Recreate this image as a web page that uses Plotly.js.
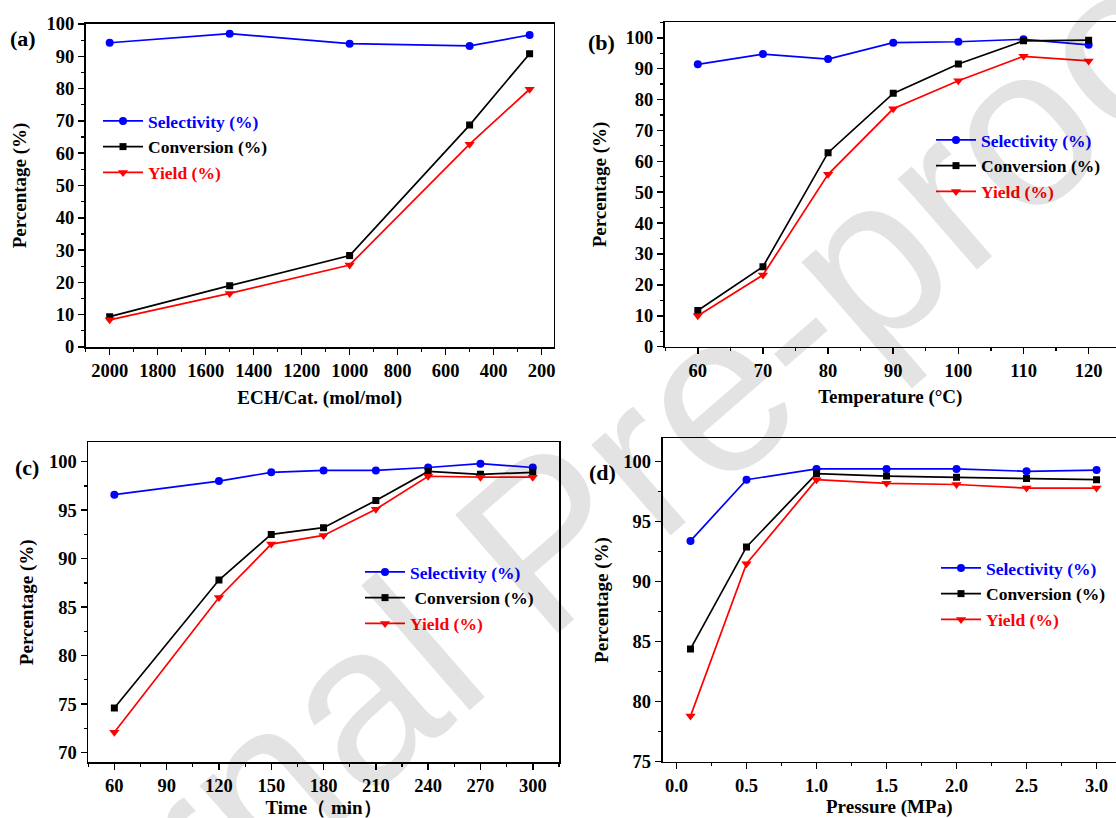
<!DOCTYPE html>
<html>
<head>
<meta charset="utf-8">
<script src="https://cdn.plot.ly/plotly-3.0.1.min.js"></script>
<style>
html,body{margin:0;padding:0;background:#fff;overflow:hidden;}
#chart{width:1116px;height:818px;}
</style>
</head>
<body>
<div id="chart"></div>
<script>
// ---- data ----
const seriesNames = ['Selectivity (%)', 'Conversion (%)', 'Yield (%)'];

// (a) ECH/Cat. ratio
const ratioX = [2000, 1500, 1000, 500, 250];
const ratioSel = [94.2, 97.0, 93.9, 93.2, 96.6];
const ratioConv = [9.4, 19.0, 28.3, 68.7, 90.8];
const ratioYield = [8.4, 16.6, 25.4, 62.8, 79.8];

// (b) Temperature
const tempX = [60, 70, 80, 90, 100, 110, 120];
const tempSel = [91.4, 94.7, 93.1, 98.4, 98.7, 99.5, 97.7];
const tempConv = [11.7, 25.9, 62.8, 82.0, 91.5, 99.0, 99.2];
const tempYield = [10.0, 23.2, 55.8, 77.0, 86.1, 94.0, 92.5];

// (c) Time
const timeX = [60, 120, 150, 180, 210, 240, 270, 300];
const timeSel = [96.6, 98.0, 98.9, 99.1, 99.1, 99.4, 99.8, 99.4];
const timeConv = [74.6, 87.8, 92.5, 93.2, 96.0, 99.0, 98.7, 98.9];
const timeYield = [72.1, 86.0, 91.5, 92.4, 95.1, 98.5, 98.4, 98.4];

// (d) Pressure
const presX = [0.1, 0.5, 1.0, 1.5, 2.0, 2.5, 3.0];
const presSel = [93.4, 98.5, 99.4, 99.4, 99.4, 99.2, 99.3];
const presConv = [84.4, 92.9, 99.0, 98.8, 98.7, 98.6, 98.5];
const presYield = [78.8, 91.5, 98.5, 98.2, 98.1, 97.8, 97.8];

// ---- styling ----
const FONT = 'Liberation Serif, Times New Roman, serif';
const BLUE = '#0000ff', BLACK = '#000000', RED = '#ff0000';
const W = 1116, H = 818;

function mk(x, y, color, symbol, size, name, ax, leg) {
  return {
    x: x, y: y, type: 'scatter', mode: 'lines+markers',
    line: {color: color, width: 1.7},
    marker: {color: color, symbol: symbol, size: size},
    name: '<span style="color:' + color + '">' + name + '</span>',
    xaxis: 'x' + ax, yaxis: 'y' + ax, legend: leg, showlegend: true
  };
}

const panels = [
  {ax: '', leg: 'legend', x: ratioX, s: ratioSel, c: ratioConv, yv: ratioYield, conv: seriesNames[1]},
  {ax: '2', leg: 'legend2', x: tempX, s: tempSel, c: tempConv, yv: tempYield, conv: seriesNames[1]},
  {ax: '3', leg: 'legend3', x: timeX, s: timeSel, c: timeConv, yv: timeYield, conv: ' ' + seriesNames[1]},
  {ax: '4', leg: 'legend4', x: presX, s: presSel, c: presConv, yv: presYield, conv: seriesNames[1]}
];

const traces = [];
panels.forEach(p => {
  traces.push(mk(p.x, p.s, BLUE, 'circle', 8, seriesNames[0], p.ax, p.leg));
  traces.push(mk(p.x, p.c, BLACK, 'square', 7, p.conv, p.ax, p.leg));
  traces.push(mk(p.x, p.yv, RED, 'triangle-down', 9, seriesNames[2], p.ax, p.leg));
});

function px2x(v) { return v / W; }
function px2y(v) { return 1 - v / H; }

function xax(domL, domR, range, dtick, minorDtick, title, anchor, standoff, fmt) {
  const a = {
    domain: [px2x(domL), domR >= W ? 1 : px2x(domR)], range: range, anchor: anchor,
    showgrid: false, zeroline: false, showline: true, linecolor: '#000', linewidth: 1.7,
    mirror: true, ticks: 'outside', ticklen: 6, tickwidth: 1.5, tickcolor: '#000',
    dtick: dtick, tick0: 0, automargin: false,
    minor: {ticks: 'outside', ticklen: 3, tickwidth: 1.2, tickcolor: '#000', dtick: minorDtick, showgrid: false},
    tickfont: {family: FONT, size: 18.5, color: '#000', weight: 'bold'},
    title: {text: title, font: {family: FONT, size: 19, color: '#000', weight: 'bold'}, standoff: standoff}
  };
  if (fmt) a.tickformat = fmt;
  return a;
}
function yax(domB, domT, range, dtick, minorDtick, anchor, mirror, standoff) {
  return {
    domain: [px2y(domB), px2y(domT)], range: range, anchor: anchor,
    showgrid: false, zeroline: false, showline: true, linecolor: '#000', linewidth: 1.7,
    mirror: mirror, ticks: 'outside', ticklen: 6, tickwidth: 1.5, tickcolor: '#000',
    dtick: dtick, tick0: 0, automargin: false,
    minor: {ticks: 'outside', ticklen: 3, tickwidth: 1.2, tickcolor: '#000', dtick: minorDtick, showgrid: false},
    tickfont: {family: FONT, size: 18.5, color: '#000', weight: 'bold'},
    title: {text: 'Percentage (%)', font: {family: FONT, size: 19, color: '#000', weight: 'bold'}, standoff: standoff}
  };
}
function leg(xpx, ypx) {
  return {
    x: px2x(xpx), y: px2y(ypx), xanchor: 'left', yanchor: 'top',
    bgcolor: 'rgba(0,0,0,0)', borderwidth: 0, itemwidth: 40, tracegroupgap: 0,
    font: {family: FONT, size: 17.5, color: '#000', weight: 'bold'}
  };
}
function lab(t, xpx, ypx) {
  return {text: t, x: px2x(xpx), y: px2y(ypx), xref: 'paper', yref: 'paper', showarrow: false,
    xanchor: 'center', yanchor: 'middle',
    font: {family: FONT, size: 22, color: '#000', weight: 'bold'}};
}

const layout = {
  width: W, height: H,
  margin: {l: 0, r: 0, t: 0, b: 0},
  paper_bgcolor: '#fff', plot_bgcolor: '#fff',
  showlegend: true,
  xaxis: xax(85.7, 553.6, [2100, 150], 200, 100, 'ECH/Cat. (mol/mol)', 'y', 11),
  yaxis: yax(347, 24, [0, 100], 10, 5, 'x', true, 15),
  xaxis2: xax(664.6, W, [54.9, 124.2], 10, 5, 'Temperature (°C)', 'y2', 10),
  yaxis2: yax(346.7, 22.3, [0, 105], 10, 5, 'x2', false, 14),
  xaxis3: xax(88.2, 558.9, [45, 315], 30, 15, 'Time（ min）', 'y3', 8),
  yaxis3: yax(762.3, 442.3, [69, 102], 5, 2.5, 'x3', true, 10),
  xaxis4: xax(662.5, W, [-0.1, 3.139], 0.5, 0.25, 'Pressure (MPa)', 'y4', 8, '.1f'),
  yaxis4: yax(761.7, 438.3, [75, 101.95], 5, 2.5, 'x4', false, 10),
  legend: leg(98, 103),
  legend2: leg(931, 122),
  legend3: leg(360, 554),
  legend4: leg(936, 550),
  annotations: [
    lab('(a)', 23, 38),
    lab('(b)', 601, 43),
    lab('(c)', 27, 467),
    lab('(d)', 602, 472),
    {text: 'Journal Pre-proof', x: px2x(545), y: px2y(540), xref: 'paper', yref: 'paper',
     xanchor: 'center', yanchor: 'middle',
     showarrow: false, textangle: -41,
     font: {family: 'Liberation Sans, Arial, sans-serif', size: 228, color: 'rgba(0,0,0,0.11)'}}
  ]
};

Plotly.newPlot('chart', traces, layout, {staticPlot: true, displayModeBar: false});
</script>
</body>
</html>
